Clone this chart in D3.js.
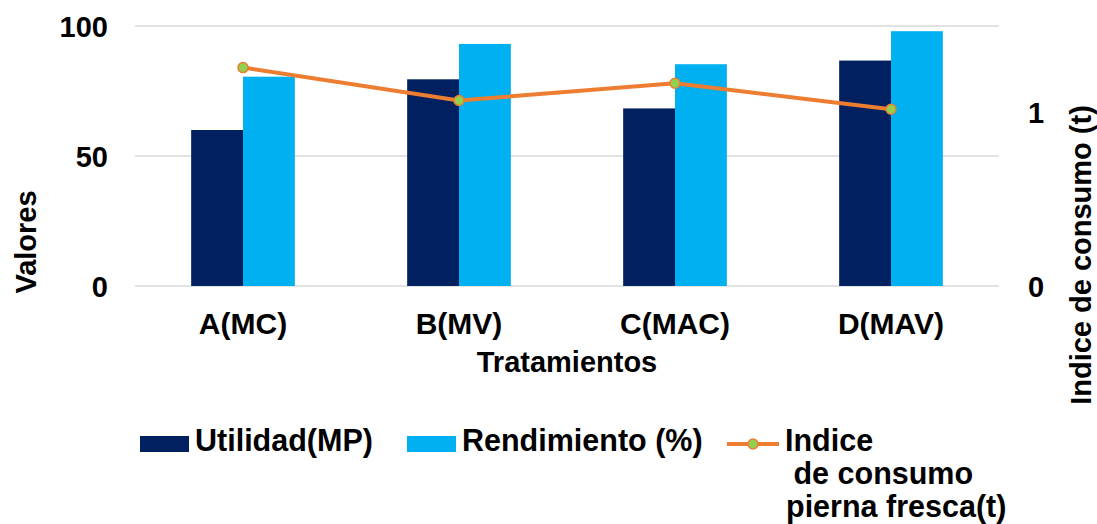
<!DOCTYPE html>
<html>
<head>
<meta charset="utf-8">
<script src="https://cdn.jsdelivr.net/npm/d3@7"></script>
<style>
  html, body { margin: 0; padding: 0; background: #fff; }
  svg { display: block; }
  text { font-family: "Liberation Sans", Arial, sans-serif; font-weight: bold; fill: #000; }
</style>
</head>
<body>
<svg id="chart" width="1097" height="524"></svg>
<script>
const categories = ["A(MC)", "B(MV)", "C(MAC)", "D(MAV)"];
const utilidad = [60, 79.5, 68.3, 86.7];
const rendimiento = [80.5, 93.1, 85.3, 98.0];
const indice = [1.26, 1.07, 1.17, 1.02];
const leftTicks = [0, 50, 100];
const rightTicks = [0, 1];
const seriesNames = ["Utilidad(MP)", "Rendimiento (%)"];
const lineLegend = ["Indice", " de consumo", "pierna fresca(t)"];

const svg = d3.select("#chart");
const plot = { left: 135, right: 999, top: 26, bottom: 286 };

const x = d3.scaleBand().domain(categories).range([plot.left, plot.right]).padding(0);
const yL = d3.scaleLinear().domain([0, 100]).range([plot.bottom, plot.top]);
const yR = d3.scaleLinear().domain([0, 1.5]).range([plot.bottom, plot.top]);

const barW = x.bandwidth() * 0.24;
const colors = ["#002060", "#00B0F0"];
const lineColor = "#ED7D31";
const markerColor = "#92D050";

// gridlines
svg.append("g").selectAll("line").data(leftTicks).join("line")
  .attr("x1", plot.left).attr("x2", plot.right)
  .attr("y1", d => yL(d)).attr("y2", d => yL(d))
  .attr("stroke", "#d9d9d9").attr("stroke-width", 1.5);

// left axis labels
const leftAxis = d3.axisLeft(yL).tickValues(leftTicks).tickSize(0).tickPadding(0).tickFormat(d3.format("d"));
const gL = svg.append("g").attr("transform", "translate(108,0)").call(leftAxis);
gL.select(".domain").remove();
gL.selectAll("text").attr("font-size", 29).attr("font-family", "Liberation Sans, Arial, sans-serif")
  .attr("font-weight", "bold").attr("fill", "#000").attr("dy", "0.35em");

// right axis labels
const rightAxis = d3.axisRight(yR).tickValues(rightTicks).tickSize(0).tickPadding(0).tickFormat(d3.format("d"));
const gR = svg.append("g").attr("transform", "translate(1028,0)").call(rightAxis);
gR.select(".domain").remove();
gR.selectAll("text").attr("font-size", 29).attr("font-family", "Liberation Sans, Arial, sans-serif")
  .attr("font-weight", "bold").attr("fill", "#000").attr("dy", "0.35em");

// bars
const series = [utilidad, rendimiento];
series.forEach((vals, si) => {
  svg.append("g").selectAll("rect").data(vals).join("rect")
    .attr("x", (d, i) => x(categories[i]) + x.bandwidth() / 2 - barW + si * barW)
    .attr("y", d => yL(d))
    .attr("width", barW)
    .attr("height", d => yL(0) - yL(d))
    .attr("fill", colors[si]);
});

// line
const line = d3.line()
  .x((d, i) => x(categories[i]) + x.bandwidth() / 2)
  .y(d => yR(d));
svg.append("path").datum(indice)
  .attr("d", line).attr("fill", "none")
  .attr("stroke", lineColor).attr("stroke-width", 4).attr("stroke-linejoin", "round");
svg.append("g").selectAll("circle").data(indice).join("circle")
  .attr("cx", (d, i) => x(categories[i]) + x.bandwidth() / 2)
  .attr("cy", d => yR(d))
  .attr("r", 5)
  .attr("fill", markerColor).attr("stroke", lineColor).attr("stroke-width", 1.5);

// category labels
svg.append("g").selectAll("text").data(categories).join("text")
  .attr("x", d => x(d) + x.bandwidth() / 2)
  .attr("y", 334)
  .attr("text-anchor", "middle")
  .attr("font-size", 30)
  .text(d => d);

// axis titles
svg.append("text").attr("x", 567).attr("y", 372).attr("text-anchor", "middle")
  .attr("font-size", 29).text("Tratamientos");
svg.append("text").attr("transform", "translate(36,242) rotate(-90)").attr("text-anchor", "middle")
  .attr("font-size", 29).text("Valores");
svg.append("text").attr("transform", "translate(1091,255) rotate(-90)").attr("text-anchor", "middle")
  .attr("font-size", 29).text("Indice de consumo (t)");

// legend
const legendItems = [{ x: 140, tx: 195 }, { x: 407, tx: 462 }];
legendItems.forEach((li, i) => {
  svg.append("rect").attr("x", li.x).attr("y", 436).attr("width", 49).attr("height", 16).attr("fill", colors[i]);
  svg.append("text").attr("x", li.tx).attr("y", 451).attr("font-size", 30.5).text(seriesNames[i]);
});
svg.append("line").attr("x1", 727).attr("x2", 779).attr("y1", 444).attr("y2", 444)
  .attr("stroke", lineColor).attr("stroke-width", 4);
svg.append("circle").attr("cx", 753).attr("cy", 444).attr("r", 5)
  .attr("fill", markerColor).attr("stroke", lineColor).attr("stroke-width", 1.5);
const lt = svg.append("text").attr("font-size", 30.5).attr("xml:space", "preserve");
lineLegend.forEach((t, i) => {
  lt.append("tspan").attr("x", i === 2 ? 786 : 785).attr("y", 451 + i * 33)
    .style("white-space", "pre").text(t);
});
</script>
</body>
</html>
